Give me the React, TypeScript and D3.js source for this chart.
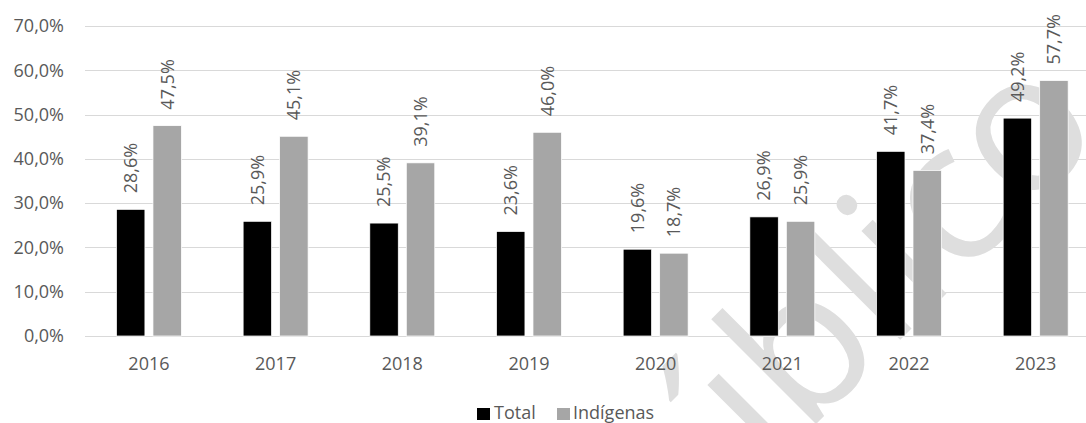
import React from "react";
import * as d3 from "d3";

const years = ["2016", "2017", "2018", "2019", "2020", "2021", "2022", "2023"];
const totalValues = [28.6, 25.9, 25.5, 23.6, 19.6, 26.9, 41.7, 49.2];
const indigenasValues = [47.5, 45.1, 39.1, 46.0, 18.7, 25.9, 37.4, 57.7];
const seriesNames = ["Total", "Indígenas"];
const seriesColors = ["#000000", "#a6a6a6"];
const yTicks = [0, 10, 20, 30, 40, 50, 60, 70];

const W = 1086;
const H = 423;
const FONT = "'Open Sans', 'Noto Sans', sans-serif";
const TEXT = "#595959";
const FS = 18;

const fmt = (v: number) => v.toFixed(1).replace(".", ",") + "%";

export default function App() {
  const y = d3.scaleLinear().domain([0, 70]).range([336, 26]);
  const x0 = d3
    .scaleBand<string>()
    .domain(years)
    .range([85.6, 1099])
    .paddingInner(0.487)
    .paddingOuter(0.2435);
  const x1 = d3
    .scaleBand<string>()
    .domain(seriesNames)
    .range([0, x0.bandwidth()])
    .paddingInner(0.22);

  const data = seriesNames.map((name, si) => ({
    name,
    color: seriesColors[si],
    values: si === 0 ? totalValues : indigenasValues,
  }));

  return (
    <div style={{ position: "absolute", left: 0, top: 0, width: W, height: H }}>
      <svg width={W} height={H} style={{ display: "block", background: "#fff" }}>
        {/* gridlines */}
        {yTicks.map((t) => (
          <line
            key={t}
            x1={85}
            x2={W}
            y1={Math.round(y(t)) + 0.5}
            y2={Math.round(y(t)) + 0.5}
            stroke="#d9d9d9"
            strokeWidth={1.2}
          />
        ))}
        {/* watermark */}
        <text
          x={872}
          y={368}
          transform="rotate(-45 872 368)"
          fontFamily={FONT}
          fontSize={195}
          fill="#dedede"
          textAnchor="middle"
        >
          Público
        </text>
        {/* y tick labels */}
        {yTicks.map((t) => (
          <text
            key={t}
            x={64}
            y={y(t)}
            dy="0.35em"
            textAnchor="end"
            fontFamily={FONT}
            fontSize={FS}
            fill={TEXT}
          >
            {fmt(t)}
          </text>
        ))}
        {/* bars */}
        {data.map((s) =>
          years.map((yr, i) => {
            const bx = (x0(yr) as number) + (x1(s.name) as number);
            const v = s.values[i];
            return (
              <rect
                key={s.name + yr}
                x={bx}
                y={y(v)}
                width={x1.bandwidth()}
                height={y(0) - y(v)}
                fill={s.color}
                stroke="#ffffff"
                strokeWidth={0.75}
              />
            );
          })
        )}
        {/* data labels */}
        {data.map((s) =>
          years.map((yr, i) => {
            const cx = (x0(yr) as number) + (x1(s.name) as number) + x1.bandwidth() / 2;
            const v = s.values[i];
            const ty = y(v) - 16;
            return (
              <text
                key={"l" + s.name + yr}
                transform={`translate(${cx},${ty}) rotate(-90)`}
                dy="0.35em"
                textAnchor="start"
                fontFamily={FONT}
                fontSize={FS}
                fill={TEXT}
              >
                {fmt(v)}
              </text>
            );
          })
        )}
        {/* x labels */}
        {years.map((yr) => (
          <text
            key={"x" + yr}
            x={(x0(yr) as number) + x0.bandwidth() / 2}
            y={364}
            dy="0.35em"
            textAnchor="middle"
            fontFamily={FONT}
            fontSize={FS}
            fill={TEXT}
          >
            {yr}
          </text>
        ))}
        {/* legend */}
        <g>
          <rect x={477} y={408} width={13} height={12} fill={seriesColors[0]} />
          <text x={494} y={419} fontFamily={FONT} fontSize={FS} fill={TEXT}>
            {seriesNames[0]}
          </text>
          <rect x={557} y={408} width={13} height={12} fill={seriesColors[1]} />
          <text x={573} y={419} fontFamily={FONT} fontSize={FS} fill={TEXT}>
            {seriesNames[1]}
          </text>
        </g>
      </svg>
    </div>
  );
}
